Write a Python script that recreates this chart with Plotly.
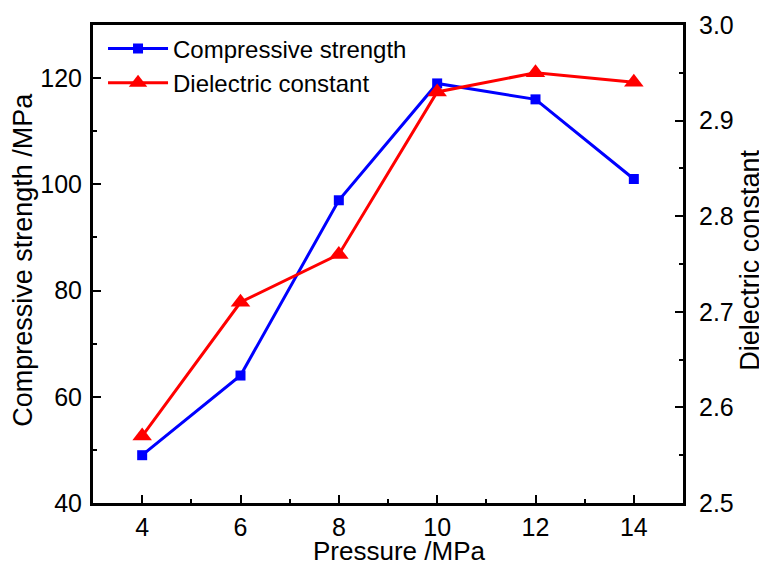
import plotly.graph_objects as go

pressure = [4, 6, 8, 10, 12, 14]
compressive_strength = [49, 64, 97, 119, 116, 101]
dielectric_constant = [2.57, 2.71, 2.76, 2.93, 2.95, 2.94]

x_title = "Pressure /MPa"
y_title = "Compressive strength /MPa"
y2_title = "Dielectric constant"

FONT = "Liberation Sans, Arial, sans-serif"
TICK_FS = 25
TITLE_FS = 27
LEG_FS = 24

fig = go.Figure()
fig.add_trace(go.Scatter(
    x=pressure, y=compressive_strength, name="Compressive strength",
    mode="lines+markers",
    line=dict(color="#0000ff", width=3),
    marker=dict(symbol="square", size=10, color="#0000ff"),
    yaxis="y",
))
fig.add_trace(go.Scatter(
    x=pressure, y=dielectric_constant, name="Dielectric constant",
    mode="lines+markers",
    line=dict(color="#ff0000", width=3),
    marker=dict(symbol="triangle-up", size=17, color="#ff0000"),
    yaxis="y2",
))

axis_common = dict(
    showgrid=False, zeroline=False, showline=True, linecolor="black", linewidth=3,
    ticks="inside", ticklen=8, tickwidth=2, tickcolor="black",
    tickfont=dict(family=FONT, size=TICK_FS, color="black"),
)
minor_common = dict(ticks="inside", ticklen=4, tickwidth=2, tickcolor="black")
title_font = dict(family=FONT, size=TITLE_FS, color="black")

# body has an 8px default margin in the page; compensate in the layout margins
fig.update_layout(
    width=767, height=566,
    margin=dict(l=85, r=92, t=17, b=71, autoexpand=False),
    plot_bgcolor="white", paper_bgcolor="white",
    font=dict(family=FONT, color="black"),
    showlegend=True,
    legend=dict(
        x=0.017, y=0.997, xanchor="left", yanchor="top",
        font=dict(family=FONT, size=LEG_FS, color="black"),
        bgcolor="rgba(0,0,0,0)", itemwidth=60, tracegroupgap=0,
    ),
    xaxis=dict(
        range=[3, 15], tickvals=[4, 6, 8, 10, 12, 14], mirror=True,
        minor=dict(tickvals=[5, 7, 9, 11, 13], **minor_common),
        **axis_common,
    ),
    yaxis=dict(
        range=[40, 130], tickvals=[40, 60, 80, 100, 120],
        ticklabelstandoff=3,
        minor=dict(tickvals=[50, 70, 90, 110], **minor_common),
        **axis_common,
    ),
    yaxis2=dict(
        range=[2.5, 3.0], tickvals=[2.5, 2.6, 2.7, 2.8, 2.9, 3.0], tickformat=".1f",
        overlaying="y", side="right",
        ticklabelstandoff=8,
        minor=dict(tickvals=[2.55, 2.65, 2.75, 2.85, 2.95], **minor_common),
        **axis_common,
    ),
    annotations=[
        dict(text=x_title, xref="paper", yref="paper", x=0.519, y=-0.101,
             xanchor="center", yanchor="middle", showarrow=False,
             font=dict(family=FONT, size=26, color="black")),
        dict(text=y_title, xref="paper", yref="paper", x=-0.1185, y=0.509,
             xanchor="center", yanchor="middle", showarrow=False, textangle=-90, font=title_font),
        dict(text=y2_title, xref="paper", yref="paper", x=1.1135, y=0.509,
             xanchor="center", yanchor="middle", showarrow=False, textangle=-90, font=title_font),
    ],
)

fig.write_html("out.html")
